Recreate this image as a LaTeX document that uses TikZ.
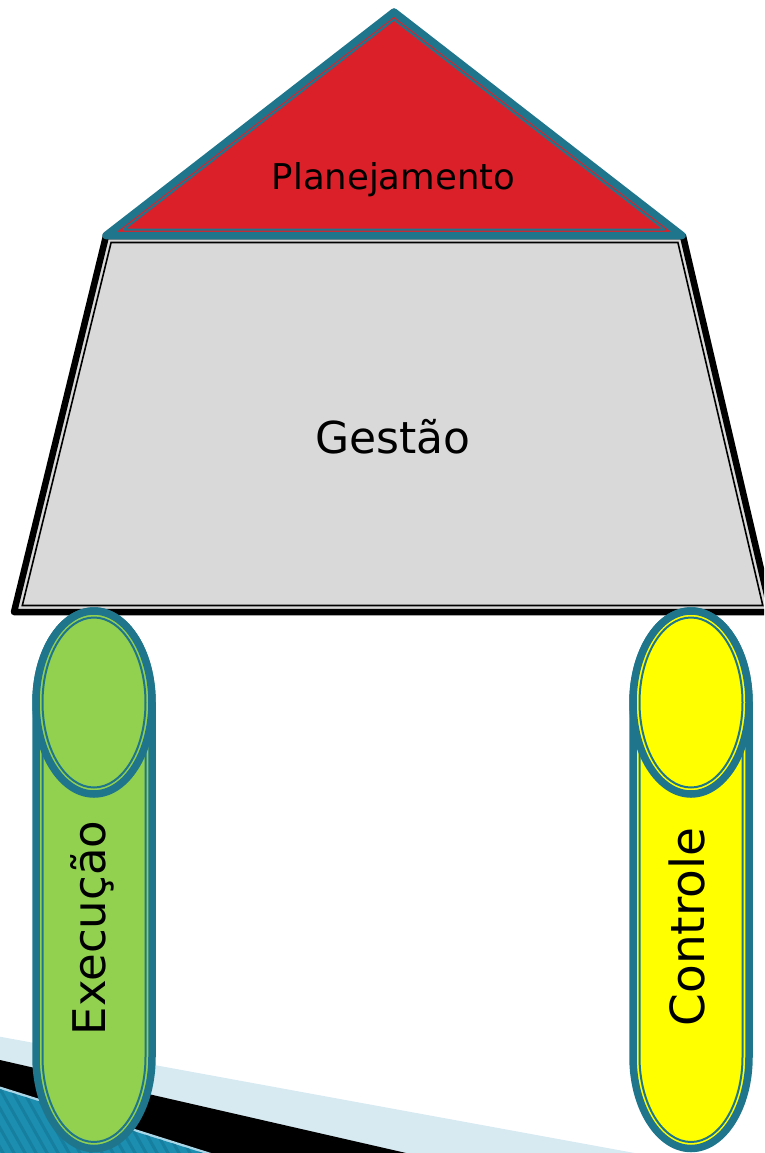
\documentclass[tikz,border=0pt]{standalone}
\usepackage{fontspec}
\setmainfont{DejaVu Sans}
\definecolor{tealline}{RGB}{31,118,140}
\definecolor{roofred}{RGB}{220,32,42}
\definecolor{wallgray}{RGB}{217,217,217}
\definecolor{pillargreen}{RGB}{146,208,80}
\definecolor{pillaryellow}{RGB}{255,255,0}
\definecolor{bandlight}{RGB}{215,233,241}
\definecolor{bandteal}{RGB}{28,142,176}
\definecolor{stripeteal}{RGB}{22,126,158}
\definecolor{edgelight}{RGB}{170,215,232}
% one pillar: cylinder with a thick-thin outline; #1 = centre x, #2 = fill
\newcommand\drawpillar[2]{%
  \filldraw[fill=#2, outerline]
    ({#1-58},-702.5) -- ({#1-58},-1057)
    arc[start angle=180, end angle=360, x radius=58, y radius=91.5]
    -- ({#1+58},-702.5)
    arc[start angle=0, end angle=180, x radius=58, y radius=91.5] -- cycle;
  \draw[innerline]
    ({#1-51.5},-702.5) -- ({#1-51.5},-1057)
    arc[start angle=180, end angle=360, x radius=51.5, y radius=85]
    -- ({#1+51.5},-702.5);
  \filldraw[fill=#2, outerline] (#1,-702.5) ellipse[x radius=58, y radius=91.5];
  \draw[innerline] (#1,-702.5) ellipse[x radius=51.5, y radius=85];
}
\begin{document}
\begin{tikzpicture}[x=1pt, y=1pt,
  outerline/.style={draw=tealline, line width=7.5pt, line join=round},
  innerline/.style={draw=tealline, line width=2pt},
  label/.style={text=black, inner sep=0pt, anchor=base}]
\useasboundingbox (0,0) rectangle (764,-1153);
\clip (0,0) rectangle (764,-1153);

% slanted bands in the lower left corner
\fill[bandlight] (0,-1036.7) -- (800,-1183.3) -- (0,-1300) -- cycle;
\fill[black] (0,-1060) -- (800,-1243.2) -- (0,-1300) -- cycle;
\fill[edgelight] (0,-1086.5) -- (800,-1338.5) -- (0,-1400) -- cycle;
\begin{scope}
  \clip (0,-1089) -- (800,-1341) -- (0,-1400) -- cycle;
  \fill[bandteal] (0,-1080) rectangle (300,-1160);
  \foreach \k in {-60,-49,...,260}
    \draw[stripeteal, line width=3pt] (\k,-1080) -- ({\k+45},-1160);
\end{scope}

% wall
\filldraw[fill=wallgray, draw=black, line width=6.5pt, line join=round]
  (106,-236) -- (683,-236) -- (771,-612) -- (14,-612) -- cycle;
\draw[black, line width=1.6pt]
  (111.1,-242.5) -- (677.9,-242.5) -- (762.8,-605.5) -- (22.3,-605.5) -- cycle;

% roof
\filldraw[fill=roofred, outerline]
  (394,-12) -- (682,-235.5) -- (106,-235.5) -- cycle;
\draw[innerline, line join=round]
  (394,-19.6) -- (664.4,-229.5) -- (123.6,-229.5) -- cycle;

% pillars
\drawpillar{94}{pillargreen}
\drawpillar{691}{pillaryellow}

% labels
\node[label, font=\fontsize{35.5}{40}\selectfont] (plan) at (393.5,-189.5) {Planejamento};
\node[label, font=\fontsize{44}{50}\selectfont] (gest) at (393,-453) {Gestão};
\node[label, font=\fontsize{45}{50}\selectfont, rotate=90] (exec) at (105,-928) {Execução};
\node[label, font=\fontsize{47}{52}\selectfont, rotate=90] (ctrl) at (704,-927) {Controle};
\end{tikzpicture}
\end{document}
